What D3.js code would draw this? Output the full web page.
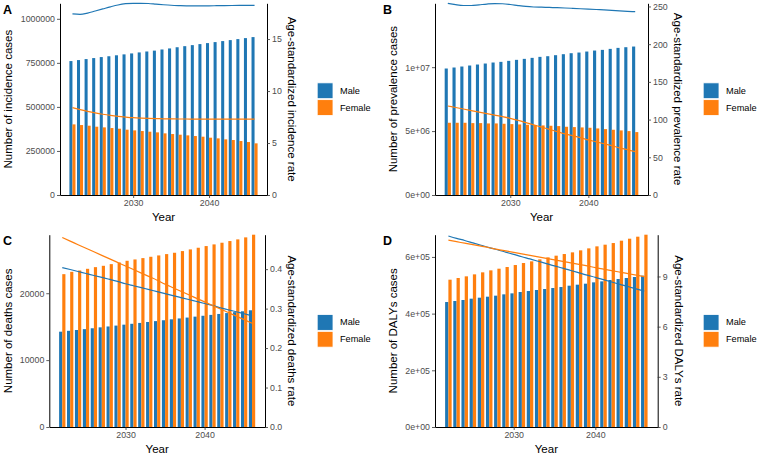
<!DOCTYPE html>
<html>
<head>
<meta charset="utf-8">
<script src="https://cdn.jsdelivr.net/npm/d3@7"></script>
<style>
body { margin: 0; background: #fff; }
svg text { font-family: "Liberation Sans", Arial, sans-serif; }
</style>
</head>
<body>
<script>
var width = 760;
var height = 456;

var years = [2022, 2023, 2024, 2025, 2026, 2027, 2028, 2029, 2030, 2031, 2032, 2033, 2034,
             2035, 2036, 2037, 2038, 2039, 2040, 2041, 2042, 2043, 2044, 2045, 2046];
var sexes = ['Male', 'Female'];
var colors = ['#1f77b4', '#ff7f0e'];

// A - incidence
var incidenceMale = [760100, 765700, 771400, 777100, 782800, 787500, 792900, 798100, 803500, 809200,
                     814500, 819400, 825900, 831800, 838600, 844700, 850600, 856400, 862100, 867800,
                     873500, 879100, 884800, 890400, 896200];
var incidenceFemale = [400800, 397000, 393300, 387600, 383800, 380000, 376200, 370600, 366800, 363000,
                       359200, 355500, 349800, 346000, 342200, 338400, 334700, 330900, 325200, 321400,
                       315800, 312000, 306300, 300600, 293100];
var incidenceRateMale = [17.42, 17.38, 17.5, 17.7, 17.9, 18.1, 18.28, 18.4, 18.44, 18.44, 18.42, 18.36,
                         18.3, 18.25, 18.22, 18.2, 18.2, 18.2, 18.2, 18.21, 18.22, 18.23, 18.24, 18.25, 18.25];
var incidenceRateFemale = [8.4, 8.22, 8.05, 7.9, 7.77, 7.66, 7.57, 7.5, 7.44, 7.4, 7.37, 7.35, 7.33,
                           7.32, 7.31, 7.31, 7.3, 7.3, 7.3, 7.3, 7.3, 7.3, 7.3, 7.3, 7.3];

// B - prevalence
var prevalenceMale = [9896000, 9974000, 10052000, 10130000, 10208000, 10286000, 10365000, 10417000,
                      10495000, 10573000, 10651000, 10729000, 10807000, 10859000, 10938000, 11016000,
                      11094000, 11146000, 11224000, 11302000, 11354000, 11432000, 11510000, 11563000, 11615000];
var prevalenceFemale = [5651000, 5651000, 5651000, 5625000, 5625000, 5599000, 5599000, 5573000, 5547000,
                        5521000, 5495000, 5469000, 5443000, 5417000, 5391000, 5339000, 5313000, 5286000,
                        5260000, 5208000, 5156000, 5104000, 5052000, 5000000, 4922000];
var prevalenceRateMale = [254.2, 252.4, 251.3, 251.3, 252.2, 253.2, 253.8, 253.6, 252.6, 251.2, 250.0,
                          249.3, 249.0, 248.7, 248.4, 248.0, 247.5, 247.0, 246.5, 246.0, 245.4, 244.8,
                          244.2, 243.6, 243.1];
var prevalenceRateFemale = [118, 116, 114, 112, 110, 108, 106, 104, 101.7, 99, 96, 93, 90, 87, 84, 81,
                            78.5, 76, 73, 70.5, 68, 65.5, 62.5, 60, 57.5];

// C - deaths
var deathsMale = [14250, 14380, 14500, 14630, 14760, 14900, 15030, 15160, 15300, 15430, 15560, 15700,
                  15830, 15960, 16100, 16230, 16360, 16500, 16630, 16760, 16900, 17030, 17170, 17300, 17450];
var deathsFemale = [22850, 23200, 23400, 23650, 23900, 24100, 24350, 24600, 24850, 25050, 25250, 25450,
                    25650, 25850, 26050, 26300, 26550, 26800, 27050, 27300, 27550, 27800, 28050, 28350, 28750];
var deathsRateMale = [0.404, 0.399, 0.394, 0.389, 0.384, 0.379, 0.374, 0.369, 0.363, 0.358, 0.353, 0.348,
                      0.343, 0.338, 0.333, 0.328, 0.323, 0.318, 0.313, 0.308, 0.302, 0.297, 0.292, 0.287, 0.282];
var deathsRateFemale = [0.480, 0.471, 0.462, 0.453, 0.444, 0.435, 0.426, 0.417, 0.408, 0.399, 0.390, 0.381,
                        0.372, 0.362, 0.353, 0.344, 0.335, 0.326, 0.317, 0.308, 0.299, 0.290, 0.281, 0.272, 0.263];

// D - DALYs
var dalysMale = [440900, 444500, 448000, 452700, 456200, 459700, 463300, 468000, 471500, 476200, 479700,
                 483300, 486800, 490300, 493800, 498500, 502100, 505600, 510300, 513800, 518500, 522100,
                 525600, 529100, 533800];
var dalysFemale = [519700, 525600, 531500, 538500, 545600, 552600, 558500, 564400, 571400, 578500, 584400,
                   591400, 598500, 604400, 610200, 616100, 623200, 630200, 637300, 643200, 649000, 657300,
                   664300, 671400, 678400];
var dalysRateMale = [11.42, 11.28, 11.15, 11.01, 10.87, 10.73, 10.60, 10.46, 10.32, 10.18, 10.05, 9.91,
                     9.77, 9.63, 9.50, 9.36, 9.22, 9.08, 8.95, 8.81, 8.67, 8.53, 8.40, 8.26, 8.12];
var dalysRateFemale = [11.17, 11.08, 10.99, 10.90, 10.81, 10.72, 10.62, 10.53, 10.44, 10.35, 10.26, 10.17,
                       10.08, 9.99, 9.90, 9.81, 9.72, 9.63, 9.53, 9.44, 9.35, 9.26, 9.17, 9.08, 8.99];

// tick values and labels
var yearTicks = [2030, 2040];
var incidenceTicks = [0, 250000, 500000, 750000, 1000000];
var incidenceLabels = ['0', '250000', '500000', '750000', '1000000'];
var incidenceRateTicks = [0, 5, 10, 15];
var prevalenceTicks = [0, 5e6, 1e7];
var prevalenceLabels = ['0e+00', '5e+06', '1e+07'];
var prevalenceRateTicks = [0, 50, 100, 150, 200, 250];
var deathsTicks = [0, 10000, 20000];
var deathsLabels = ['0', '10000', '20000'];
var deathsRateTicks = [0, 0.1, 0.2, 0.3, 0.4];
var deathsRateLabels = ['0.0', '0.1', '0.2', '0.3', '0.4'];
var dalysTicks = [0, 2e5, 4e5, 6e5];
var dalysLabels = ['0e+00', '2e+05', '4e+05', '6e+05'];
var dalysRateTicks = [0, 3, 6, 9];

// cases per unit of rate on the secondary axis
var ratio = 59000;

var panels = [
  {tag: 'A', ox: 0, oy: 0, male: incidenceMale, female: incidenceFemale,
   rateMale: incidenceRateMale, rateFemale: incidenceRateFemale,
   lTicks: incidenceTicks, lLabels: incidenceLabels, rTicks: incidenceRateTicks, rLabels: null,
   lTitle: 'Number of incidence cases', rTitle: 'Age-standardized incidence rate',
   left: 60, right: 267, top: 3.3, bottom: 195, lTitleX: 8.3, rTitleX: 292, legendX: 316.7},
  {tag: 'B', ox: 380, oy: 0, male: prevalenceMale, female: prevalenceFemale,
   rateMale: prevalenceRateMale, rateFemale: prevalenceRateFemale,
   lTicks: prevalenceTicks, lLabels: prevalenceLabels, rTicks: prevalenceRateTicks, rLabels: null,
   lTitle: 'Number of prevalence cases', rTitle: 'Age-standardized prevalence rate',
   left: 55, right: 268, top: 3.3, bottom: 195, lTitleX: 12.8, rTitleX: 298, legendX: 322.7},
  {tag: 'C', ox: 0, oy: 228, male: deathsMale, female: deathsFemale,
   rateMale: deathsRateMale, rateFemale: deathsRateFemale,
   lTicks: deathsTicks, lLabels: deathsLabels, rTicks: deathsRateTicks, rLabels: deathsRateLabels,
   lTitle: 'Number of deaths cases', rTitle: 'Age-standardized deaths rate',
   left: 49.3, right: 265, top: 6.7, bottom: 199, lTitleX: 7.8, rTitleX: 292, legendX: 316.7},
  {tag: 'D', ox: 380, oy: 228, male: dalysMale, female: dalysFemale,
   rateMale: dalysRateMale, rateFemale: dalysRateFemale,
   lTicks: dalysTicks, lLabels: dalysLabels, rTicks: dalysRateTicks, rLabels: null,
   lTitle: 'Number of DALYs cases', rTitle: 'Age-standardized DALYs rate',
   left: 55, right: 277.7, top: 6.7, bottom: 199, lTitleX: 12.8, rTitleX: 299, legendX: 322.7}
];

var svg = d3.select('body').append('svg')
            .attr('width', width)
            .attr('height', height);

var barW = 0.4;

var styleAxis = function(sel) {
  sel.select('.domain').attr('stroke', '#000').attr('stroke-width', 1);
  sel.selectAll('.tick line').attr('stroke', '#333').attr('stroke-width', 0.8);
  sel.selectAll('.tick text').attr('fill', '#4d4d4d').style('font-size', '8.8px');
};

panels.forEach(function(p) {
  var g = svg.append('g').attr('transform', 'translate(' + p.ox + ',' + p.oy + ')');

  var lo = years[0] - barW, hi = years[years.length - 1] + barW;
  var pad = (hi - lo) * 0.05;
  var x = d3.scaleLinear().domain([lo - pad, hi + pad]).range([p.left, p.right]);

  var topVal = d3.max([d3.max(p.male), d3.max(p.female),
                       d3.max(p.rateMale) * ratio, d3.max(p.rateFemale) * ratio]);
  var y = d3.scaleLinear().domain([0, topVal]).range([p.bottom, p.top]);
  var y2 = d3.scaleLinear().domain([0, topVal / ratio]).range([p.bottom, p.top]);

  // bars: male left of the year, female right
  var rows = years.map(function(yr, i) { return {year: yr, male: p.male[i], female: p.female[i]}; });

  g.selectAll('rect.male').data(rows).enter().append('rect')
    .attr('class', 'male')
    .attr('x', function(d) { return x(d.year - barW); })
    .attr('width', function(d) { return x(d.year) - x(d.year - barW); })
    .attr('y', function(d) { return y(d.male); })
    .attr('height', function(d) { return y(0) - y(d.male); })
    .attr('fill', colors[0]);

  g.selectAll('rect.female').data(rows).enter().append('rect')
    .attr('class', 'female')
    .attr('x', function(d) { return x(d.year); })
    .attr('width', function(d) { return x(d.year + barW) - x(d.year); })
    .attr('y', function(d) { return y(d.female); })
    .attr('height', function(d) { return y(0) - y(d.female); })
    .attr('fill', colors[1]);

  // rate lines on the secondary axis
  var line = d3.line()
    .x(function(d, i) { return x(years[i]); })
    .y(function(d) { return y2(d); })
    .curve(d3.curveMonotoneX);

  [p.rateMale, p.rateFemale].forEach(function(series, k) {
    g.append('path')
      .datum(series)
      .attr('d', line)
      .attr('fill', 'none')
      .attr('stroke', colors[k])
      .attr('stroke-width', 1.2);
  });

  // axes
  var ax = g.append('g').attr('transform', 'translate(0,' + p.bottom + ')')
    .call(d3.axisBottom(x).tickValues(yearTicks).tickFormat(d3.format('d'))
      .tickSize(3).tickSizeOuter(0).tickPadding(2));
  styleAxis(ax);

  var ay = g.append('g').attr('transform', 'translate(' + p.left + ',0)')
    .call(d3.axisLeft(y).tickValues(p.lTicks)
      .tickFormat(function(d, i) { return p.lLabels[i]; })
      .tickSize(3).tickSizeOuter(0).tickPadding(2));
  styleAxis(ay);

  var ay2 = g.append('g').attr('transform', 'translate(' + p.right + ',0)')
    .call(d3.axisRight(y2).tickValues(p.rTicks)
      .tickFormat(function(d, i) { return p.rLabels ? p.rLabels[i] : String(d); })
      .tickSize(3).tickSizeOuter(0).tickPadding(2));
  styleAxis(ay2);

  var midY = (p.top + p.bottom) / 2;

  // titles
  g.append('text')
    .attr('transform', 'translate(' + p.lTitleX + ',' + midY + ') rotate(-90)')
    .attr('text-anchor', 'middle')
    .attr('dominant-baseline', 'central')
    .style('font-size', '11.5px')
    .text(p.lTitle);

  g.append('text')
    .attr('transform', 'translate(' + p.rTitleX + ',' + midY + ') rotate(90)')
    .attr('text-anchor', 'middle')
    .attr('dominant-baseline', 'central')
    .style('font-size', '11.5px')
    .text(p.rTitle);

  g.append('text')
    .attr('x', (p.left + p.right) / 2)
    .attr('y', p.bottom + 26)
    .attr('text-anchor', 'middle')
    .style('font-size', '11.5px')
    .text('Year');

  g.append('text')
    .attr('x', 3)
    .attr('y', p.top + 10.3)
    .style('font-size', '12.5px')
    .style('font-weight', 'bold')
    .text(p.tag);

  // legend
  var keySize = 16.8;
  var leg = g.append('g').attr('transform', 'translate(' + p.legendX + ',' + (midY - keySize) + ')');
  var item = leg.selectAll('g').data(sexes).enter().append('g')
    .attr('transform', function(d, i) { return 'translate(0,' + (i * keySize) + ')'; });
  item.append('rect')
    .attr('x', 0.5).attr('y', 0.5)
    .attr('width', keySize - 1).attr('height', keySize - 1)
    .attr('fill', function(d, i) { return colors[i]; })
    .attr('stroke', '#fff')
    .attr('stroke-width', 0.8);
  item.append('text')
    .attr('x', keySize + 6.5)
    .attr('y', keySize / 2)
    .attr('dominant-baseline', 'central')
    .style('font-size', '9.2px')
    .text(function(d) { return d; });
});
</script>
</body>
</html>
